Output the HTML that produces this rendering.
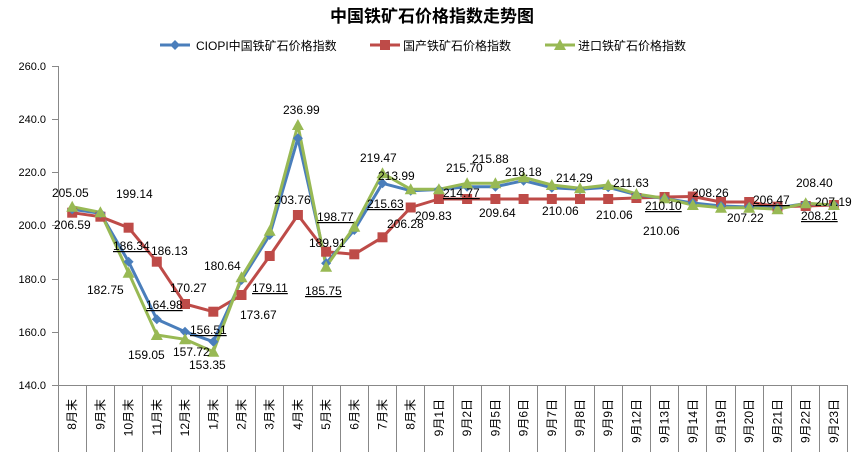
<!DOCTYPE html>
<html><head><meta charset="utf-8"><style>
body{margin:0;background:#fff}
text{font-family:"Liberation Sans","Noto Sans CJK SC",sans-serif}
</style></head><body>
<svg width="864" height="460" xmlns="http://www.w3.org/2000/svg" xmlns:xlink="http://www.w3.org/1999/xlink">
<defs>
<path id="md" d="M0 -5 L5 0 L0 5 L-5 0Z" fill="#4a7ebb"/>
<rect id="ms" x="-5" y="-5" width="10" height="10" fill="#be4b48"/>
<path id="mt" d="M0 -6 L6 5 L-6 5Z" fill="#98b954"/>
</defs>
<rect width="864" height="460" fill="#fff"/>
<text x="432" y="22" text-anchor="middle" font-size="17" font-weight="bold">中国铁矿石价格指数走势图</text>
<g font-size="12">
<line x1="160" y1="45" x2="190" y2="45" stroke="#4a7ebb" stroke-width="3"/><use xlink:href="#md" x="175" y="45"/>
<text x="196" y="50">CIOPI中国铁矿石价格指数</text>
<line x1="370" y1="45" x2="400" y2="45" stroke="#be4b48" stroke-width="3"/><use xlink:href="#ms" x="385" y="45"/>
<text x="403" y="50">国产铁矿石价格指数</text>
<line x1="545" y1="45" x2="575" y2="45" stroke="#98b954" stroke-width="3"/><use xlink:href="#mt" x="560" y="45"/>
<text x="578" y="50">进口铁矿石价格指数</text>
</g>
<g stroke="#888" stroke-width="1" fill="none">
<line x1="58.5" y1="66" x2="58.5" y2="385"/>
<line x1="52" y1="385.5" x2="848" y2="385.5"/>
<path d="M52 66.5H58M52 119.5H58M52 172.5H58M52 225.5H58M52 279.5H58M52 332.5H58"/>
<path d="M58.5 385V452M86.5 385V452M114.5 385V452M142.5 385V452M171.5 385V452M199.5 385V452M227.5 385V452M255.5 385V452M283.5 385V452M312.5 385V452M340.5 385V452M368.5 385V452M396.5 385V452M424.5 385V452M453.5 385V452M481.5 385V452M509.5 385V452M537.5 385V452M565.5 385V452M594.5 385V452M622.5 385V452M650.5 385V452M678.5 385V452M706.5 385V452M735.5 385V452M763.5 385V452M791.5 385V452M819.5 385V452M847.5 385V452"/>
</g>
<g font-size="11" text-anchor="end">
<text x="46" y="70">260.0</text><text x="46" y="123">240.0</text><text x="46" y="176">220.0</text><text x="46" y="229">200.0</text><text x="46" y="283">180.0</text><text x="46" y="336">160.0</text><text x="46" y="389">140.0</text>
</g>
<g font-size="12" text-anchor="end">
<text transform="translate(76.2,399) rotate(-90)">8月末</text>
<text transform="translate(104.4,399) rotate(-90)">9月末</text>
<text transform="translate(132.6,399) rotate(-90)">10月末</text>
<text transform="translate(160.8,399) rotate(-90)">11月末</text>
<text transform="translate(189,399) rotate(-90)">12月末</text>
<text transform="translate(217.3,399) rotate(-90)">1月末</text>
<text transform="translate(245.5,399) rotate(-90)">2月末</text>
<text transform="translate(273.7,399) rotate(-90)">3月末</text>
<text transform="translate(301.9,399) rotate(-90)">4月末</text>
<text transform="translate(330.1,399) rotate(-90)">5月末</text>
<text transform="translate(358.3,399) rotate(-90)">6月末</text>
<text transform="translate(386.5,399) rotate(-90)">7月末</text>
<text transform="translate(414.7,399) rotate(-90)">8月末</text>
<text transform="translate(442.9,399) rotate(-90)">9月1日</text>
<text transform="translate(471.1,399) rotate(-90)">9月2日</text>
<text transform="translate(499.4,399) rotate(-90)">9月5日</text>
<text transform="translate(527.6,399) rotate(-90)">9月6日</text>
<text transform="translate(555.8,399) rotate(-90)">9月7日</text>
<text transform="translate(584,399) rotate(-90)">9月8日</text>
<text transform="translate(612.2,399) rotate(-90)">9月9日</text>
<text transform="translate(640.4,399) rotate(-90)">9月12日</text>
<text transform="translate(668.6,399) rotate(-90)">9月13日</text>
<text transform="translate(696.8,399) rotate(-90)">9月14日</text>
<text transform="translate(725,399) rotate(-90)">9月19日</text>
<text transform="translate(753.2,399) rotate(-90)">9月20日</text>
<text transform="translate(781.5,399) rotate(-90)">9月21日</text>
<text transform="translate(809.7,399) rotate(-90)">9月22日</text>
<text transform="translate(837.9,399) rotate(-90)">9月23日</text>
</g>
<g fill="none" stroke-width="3" stroke-linejoin="round">
<path stroke="#be4b48" d="M72.2 212.7L100.4 216.7L128.6 227.7L156.8 261.7L185 304L213.3 311.7L241.5 295L269.7 256L297.9 215L326.1 251.7L354.3 254.3L382.5 237.3L410.7 207.5L438.9 199L467.1 199L495.4 199L523.6 199L551.8 199L580 199L608.2 199L636.4 198L664.6 197L692.8 196.5L721 202L749.2 202L777.5 206.7L805.7 206L833.9 205"/>
<path stroke="#4a7ebb" d="M72.2 209.3L100.4 213.3L128.6 261.7L156.8 319.3L185 331.7L213.3 341.7L241.5 280L269.7 235L297.9 138.3L326.1 263.3L354.3 230L382.5 183.3L410.7 190.7L438.9 189.5L467.1 186.7L495.4 186.7L523.6 180.7L551.8 187.7L580 189.3L608.2 187.3L636.4 194.7L664.6 198.5L692.8 203L721 206L749.2 207L777.5 208L805.7 203.5L833.9 205"/>
<path stroke="#98b954" d="M72.2 206.7L100.4 212.3L128.6 272.7L156.8 335L185 339.3L213.3 351.7L241.5 277.3L269.7 230.7L297.9 125L326.1 266.7L354.3 226.7L382.5 173.3L410.7 189.3L438.9 189.3L467.1 183.3L495.4 183.3L523.6 177.3L551.8 185L580 188.3L608.2 185L636.4 194L664.6 198.3L692.8 205L721 207.7L749.2 207.7L777.5 209.3L805.7 203.3L833.9 205"/>
</g>
<g>
<use xlink:href="#ms" x="72.2" y="212.7"/><use xlink:href="#ms" x="100.4" y="216.7"/><use xlink:href="#ms" x="128.6" y="227.7"/><use xlink:href="#ms" x="156.8" y="261.7"/><use xlink:href="#ms" x="185" y="304"/><use xlink:href="#ms" x="213.3" y="311.7"/><use xlink:href="#ms" x="241.5" y="295"/><use xlink:href="#ms" x="269.7" y="256"/><use xlink:href="#ms" x="297.9" y="215"/><use xlink:href="#ms" x="326.1" y="251.7"/><use xlink:href="#ms" x="354.3" y="254.3"/><use xlink:href="#ms" x="382.5" y="237.3"/><use xlink:href="#ms" x="410.7" y="207.5"/><use xlink:href="#ms" x="438.9" y="199"/><use xlink:href="#ms" x="467.1" y="199"/><use xlink:href="#ms" x="495.4" y="199"/><use xlink:href="#ms" x="523.6" y="199"/><use xlink:href="#ms" x="551.8" y="199"/><use xlink:href="#ms" x="580" y="199"/><use xlink:href="#ms" x="608.2" y="199"/><use xlink:href="#ms" x="636.4" y="198"/><use xlink:href="#ms" x="664.6" y="197"/><use xlink:href="#ms" x="692.8" y="196.5"/><use xlink:href="#ms" x="721" y="202"/><use xlink:href="#ms" x="749.2" y="202"/><use xlink:href="#ms" x="777.5" y="206.7"/><use xlink:href="#ms" x="805.7" y="206"/><use xlink:href="#ms" x="833.9" y="205"/>
<use xlink:href="#md" x="72.2" y="209.3"/><use xlink:href="#md" x="100.4" y="213.3"/><use xlink:href="#md" x="128.6" y="261.7"/><use xlink:href="#md" x="156.8" y="319.3"/><use xlink:href="#md" x="185" y="331.7"/><use xlink:href="#md" x="213.3" y="341.7"/><use xlink:href="#md" x="241.5" y="280"/><use xlink:href="#md" x="269.7" y="235"/><use xlink:href="#md" x="297.9" y="138.3"/><use xlink:href="#md" x="326.1" y="263.3"/><use xlink:href="#md" x="354.3" y="230"/><use xlink:href="#md" x="382.5" y="183.3"/><use xlink:href="#md" x="410.7" y="190.7"/><use xlink:href="#md" x="438.9" y="189.5"/><use xlink:href="#md" x="467.1" y="186.7"/><use xlink:href="#md" x="495.4" y="186.7"/><use xlink:href="#md" x="523.6" y="180.7"/><use xlink:href="#md" x="551.8" y="187.7"/><use xlink:href="#md" x="580" y="189.3"/><use xlink:href="#md" x="608.2" y="187.3"/><use xlink:href="#md" x="636.4" y="194.7"/><use xlink:href="#md" x="664.6" y="198.5"/><use xlink:href="#md" x="692.8" y="203"/><use xlink:href="#md" x="721" y="206"/><use xlink:href="#md" x="749.2" y="207"/><use xlink:href="#md" x="777.5" y="208"/><use xlink:href="#md" x="805.7" y="203.5"/><use xlink:href="#md" x="833.9" y="205"/>
<use xlink:href="#mt" x="72.2" y="206.7"/><use xlink:href="#mt" x="100.4" y="212.3"/><use xlink:href="#mt" x="128.6" y="272.7"/><use xlink:href="#mt" x="156.8" y="335"/><use xlink:href="#mt" x="185" y="339.3"/><use xlink:href="#mt" x="213.3" y="351.7"/><use xlink:href="#mt" x="241.5" y="277.3"/><use xlink:href="#mt" x="269.7" y="230.7"/><use xlink:href="#mt" x="297.9" y="125"/><use xlink:href="#mt" x="326.1" y="266.7"/><use xlink:href="#mt" x="354.3" y="226.7"/><use xlink:href="#mt" x="382.5" y="173.3"/><use xlink:href="#mt" x="410.7" y="189.3"/><use xlink:href="#mt" x="438.9" y="189.3"/><use xlink:href="#mt" x="467.1" y="183.3"/><use xlink:href="#mt" x="495.4" y="183.3"/><use xlink:href="#mt" x="523.6" y="177.3"/><use xlink:href="#mt" x="551.8" y="185"/><use xlink:href="#mt" x="580" y="188.3"/><use xlink:href="#mt" x="608.2" y="185"/><use xlink:href="#mt" x="636.4" y="194"/><use xlink:href="#mt" x="664.6" y="198.3"/><use xlink:href="#mt" x="692.8" y="205"/><use xlink:href="#mt" x="721" y="207.7"/><use xlink:href="#mt" x="749.2" y="207.7"/><use xlink:href="#mt" x="777.5" y="209.3"/><use xlink:href="#mt" x="805.7" y="203.3"/><use xlink:href="#mt" x="833.9" y="205"/>
</g>
<g font-size="12">
<text x="52" y="197">205.05</text><text x="54" y="229">206.59</text><text x="116" y="198">199.14</text><text x="113" y="250" text-decoration="underline">186.34</text><text x="151" y="255">186.13</text><text x="87" y="294">182.75</text><text x="170" y="292">170.27</text><text x="146" y="309" text-decoration="underline">164.98</text><text x="204" y="270">180.64</text><text x="252" y="292" text-decoration="underline">179.11</text><text x="240" y="319">173.67</text><text x="190" y="334" text-decoration="underline">156.51</text><text x="128" y="359">159.05</text><text x="173" y="356">157.72</text><text x="189" y="369">153.35</text><text x="283" y="114">236.99</text><text x="274" y="204">203.76</text><text x="317" y="221" text-decoration="underline">198.77</text><text x="309" y="247">189.91</text><text x="305" y="295" text-decoration="underline">185.75</text><text x="360" y="162">219.47</text><text x="378" y="180">213.99</text><text x="367" y="208" text-decoration="underline">215.63</text><text x="387" y="228">206.28</text><text x="415" y="220">209.83</text><text x="443" y="197" text-decoration="underline">214.77</text><text x="446" y="172">215.70</text><text x="472" y="163">215.88</text><text x="505" y="176">218.18</text><text x="479" y="217">209.64</text><text x="556" y="182">214.29</text><text x="542" y="215">210.06</text><text x="613" y="187">211.63</text><text x="596" y="219">210.06</text><text x="645" y="210" text-decoration="underline">210.10</text><text x="643" y="235">210.06</text><text x="692" y="197">208.26</text><text x="753" y="204" text-decoration="underline">206.47</text><text x="727" y="222">207.22</text><text x="796" y="187">208.40</text><text x="815" y="206">207.19</text><text x="801" y="220" text-decoration="underline">208.21</text>
</g>
</svg>
</body></html>
